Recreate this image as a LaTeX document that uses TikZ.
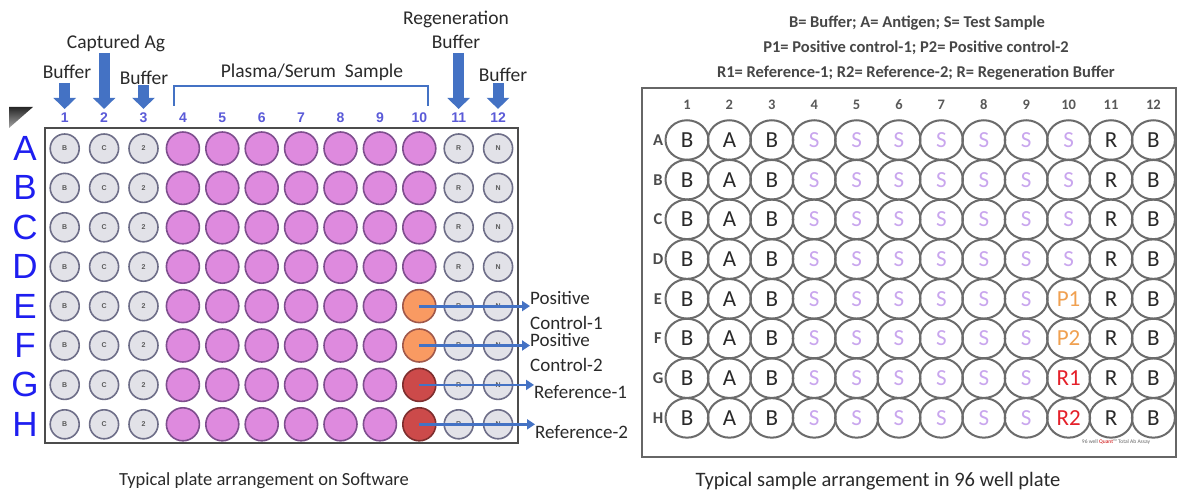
\documentclass[tikz,border=0pt]{standalone}
\usepackage{fontspec}
\setmainfont{Carlito}
\newfontfamily\arialf{Liberation Sans}
\usetikzlibrary{arrows.meta,shapes.geometric}
\definecolor{arrowblue}{HTML}{4472C4}
\definecolor{numblue}{HTML}{5A5AD8}
\definecolor{letblue}{HTML}{1E1EF0}
\definecolor{wellgray}{HTML}{E2E2E8}
\definecolor{wellring}{HTML}{6E6E88}
\definecolor{pinkfill}{HTML}{DE8ADE}
\definecolor{pinkring}{HTML}{7E4E8E}
\definecolor{orangefill}{HTML}{F99A62}
\definecolor{orangering}{HTML}{A0584A}
\definecolor{redfill}{HTML}{CC4A4A}
\definecolor{redring}{HTML}{7E2E2E}
\definecolor{stext}{HTML}{C9A6EE}
\definecolor{ptext}{HTML}{F0A050}
\definecolor{rtext}{HTML}{E5202A}
\definecolor{txt}{HTML}{2A2A2A}
\tikzset{
  lab/.style={font=\fontsize{19.5}{24}\selectfont, inner sep=0, text=txt},
  numst/.style={font=\arialf\bfseries\fontsize{14}{14}\selectfont, inner sep=0, text=numblue},
  rowlet/.style={font=\arialf\fontsize{35}{35}\selectfont, inner sep=0, text=letblue},
  blockarr/.style={draw=arrowblue, line width=11pt, -{Triangle[width=22pt,length=11pt]}},
  linearr/.style={draw=arrowblue, line width=2.8pt, -{Triangle[width=10pt,length=8pt]}},
  smallwell/.style={circle, minimum size=29pt, draw=wellring, line width=1.6pt, fill=wellgray, inner sep=0, font=\arialf\bfseries\fontsize{7}{7}\selectfont, text=black!65},
  pinkwell/.style={circle, minimum size=33pt, draw=pinkring, line width=1.6pt, fill=pinkfill, inner sep=0},
  orangewell/.style={pinkwell, draw=orangering, fill=orangefill},
  redwell/.style={pinkwell, draw=redring, fill=redfill},
  rwell/.style={ellipse, minimum width=43pt, minimum height=39.5pt, draw=black!58, line width=2pt, inner sep=0, font=\fontsize{23}{23}\selectfont, text=txt},
  rnum/.style={font=\bfseries\fontsize{14.5}{14.5}\selectfont, inner sep=0, text=black!65},
  rrow/.style={font=\bfseries\fontsize{16.5}{16.5}\selectfont, inner sep=0, text=black!70},
  hdr/.style={font=\bfseries\fontsize{16.5}{16.5}\selectfont, inner sep=0, text=black!72},
  captext/.style={font=\fontsize{18.5}{18.5}\selectfont, inner sep=0, text=txt},
}
\begin{document}
\begin{tikzpicture}[x=1pt,y=-1pt]
\useasboundingbox (0,0) rectangle (1182,497);
\fill[white] (0,0) rectangle (1182,497);
% ---------------- left plate ----------------
\node[lab] (lbuf1) at (67,72) {Buffer};
\node[lab] (lcap) at (116,43) {Captured Ag};
\node[lab] (lbuf3) at (144,78) {Buffer};
\node[lab] (lplas) at (312,72) {Plasma/Serum\ \ Sample};
\node[lab, align=center] (lreg) at (456,30) {Regeneration\\Buffer};
\node[lab] (lbuf12) at (503,75) {Buffer};
\foreach \i in {1,...,12} \node[numst] (n\i) at ({64.7+39.4*(\i-1)},118) {\i};
\coordinate (a1) at (64.7,83);
\coordinate (a2) at (104.1,53);
\coordinate (a3) at (143.5,85);
\coordinate (a11) at (458.6,53);
\coordinate (a12) at (498,83);
\foreach \i in {1,2,3,11,12} \draw[blockarr, shorten >=4pt] (a\i) -- (a\i |- n\i.north);
\draw[arrowblue, line width=2.5pt] (174,106) -- (174,86) -- (428,86) -- (428,106);
\shade[top color=black!85, bottom color=black!35] (9,107) -- (33,107) -- (9,128) -- cycle;
\draw[black!70, line width=1.5pt, fill=white] (45,128) rectangle (518,443);
\foreach \r [count=\ri from 0] in {A,B,C,D,E,F,G,H} {
  \node[rowlet] (L\r) at (25,{148.5+39.4*\ri}) {\r};
  \foreach \c/\t in {1/B,2/C,3/2,11/R,12/N}
    \node[smallwell] (w-\r-\c) at ({64.7+39.4*(\c-1)},{148.5+39.4*\ri}) {\t};
  \foreach \c in {4,...,9}
    \node[pinkwell] (w-\r-\c) at ({64.7+39.4*(\c-1)},{148.5+39.4*\ri}) {};
}
\foreach \r/\st [count=\ri from 0] in {A/pinkwell,B/pinkwell,C/pinkwell,D/pinkwell,E/orangewell,F/orangewell,G/redwell,H/redwell}
  \node[\st] (w-\r-10) at (419.3,{148.5+39.4*\ri}) {};
\node[lab, anchor=west, align=left, font=\fontsize{19}{25}\selectfont] (pc1) at (530,310) {Positive\\Control-1};
\node[lab, anchor=west, align=left, font=\fontsize{19}{25}\selectfont] (pc2) at (530,352) {Positive\\Control-2};
\node[lab, anchor=west, font=\fontsize{19}{25}\selectfont] (ref1) at (534,392) {Reference-1};
\node[lab, anchor=west, font=\fontsize{19}{25}\selectfont] (ref2) at (535,432) {Reference-2};
\draw[linearr] (w-E-10.center) -- (w-E-10.center -| pc1.west);
\draw[linearr] (w-F-10.center) -- (w-F-10.center -| pc2.west);
\draw[linearr] (w-G-10.center) -- (w-G-10.center -| ref1.west);
\draw[linearr] (w-H-10.center) -- (w-H-10.center -| ref2.west);
\node[captext] (cap1) at (264,481) {Typical plate arrangement on Software};
% ---------------- right plate ----------------
\node[hdr] (h1) at (917,23) {B= Buffer; A= Antigen; S= Test Sample};
\node[hdr] (h2) at (916,48) {P1= Positive control-1; P2= Positive control-2};
\node[hdr] (h3) at (916,73) {R1= Reference-1; R2= Reference-2; R= Regeneration Buffer};
\draw[black!60, line width=2.5pt, fill=white] (642,88) rectangle (1176,457);
\foreach \i in {1,...,12} \node[rnum] (m\i) at ({687+42.4*(\i-1)},105) {\i};
\foreach \r [count=\ri from 0] in {A,B,C,D,E,F,G,H} {
  \node[rrow] (R\r) at (658,{140+39.7*\ri}) {\r};
  \foreach \c/\t in {1/B,2/A,3/B,11/R,12/B}
    \node[rwell] (v-\r-\c) at ({687+42.4*(\c-1)},{140+39.7*\ri}) {\t};
  \foreach \c in {4,...,9}
    \node[rwell, text=stext] (v-\r-\c) at ({687+42.4*(\c-1)},{140+39.7*\ri}) {S};
}
\foreach \r/\t/\col [count=\ri from 0] in {A/S/stext,B/S/stext,C/S/stext,D/S/stext,E/P1/ptext,F/P2/ptext,G/R1/rtext,H/R2/rtext}
  \node[rwell, text=\col] (v-\r-10) at (1068.6,{140+39.7*\ri}) {\t};
\node[inner sep=0, font=\fontsize{5.5}{5.5}\selectfont, text=black!60] (copy) at (1116,442) {96 well \textcolor{red!80!black}{Quant}\texttrademark\ Total Ab Assay};
\node[captext, font=\fontsize{20.5}{20.5}\selectfont] (cap2) at (878,481) {Typical sample arrangement in 96 well plate};
\end{tikzpicture}
\end{document}
